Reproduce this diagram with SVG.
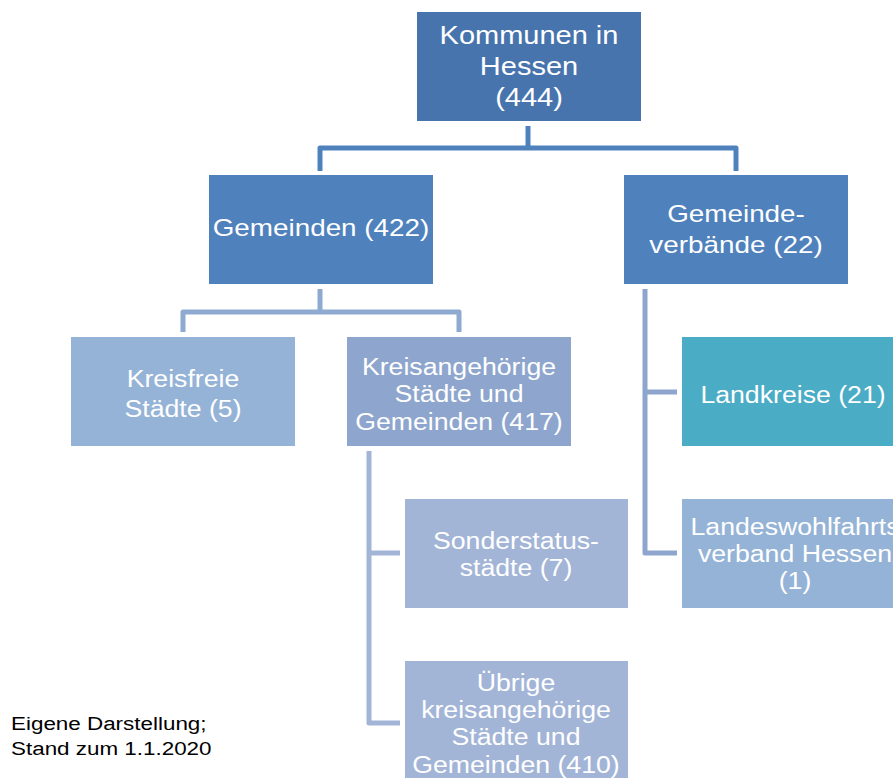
<svg xmlns="http://www.w3.org/2000/svg" width="893" height="778" viewBox="0 0 893 778">
<style>
  text { font-family: "Liberation Sans", Arial, sans-serif; fill: #ffffff; text-anchor: middle; }
  .l1 { font-size: 25px; }
  .l2 { font-size: 24px; }
  .l3 { font-size: 23px; }
  .foot { font-size: 19px; fill: #000000; text-anchor: start; }
  .conn { fill: none; stroke-width: 5; stroke-linejoin: round; stroke-linecap: butt; }
</style>
<rect width="893" height="778" fill="#ffffff"/>

<g id="connectors">
  <path class="conn" stroke="#4f81bd" d="M528,126 V148 M320,171 V148 H736 V171"/>
  <path class="conn" stroke="#8eaad0" d="M320,289 V312 M183,332 V312 H459 V332"/>
  <path class="conn" stroke="#8ea6cd" d="M645,289 V553 H677 M645,392 H677"/>
  <path class="conn" stroke="#a3b5d7" d="M369,451 V723 H400 M369,553 H400"/>
</g>

<g id="node-kommunen">
  <rect x="417" y="12" width="224" height="109" fill="#4774ad"/>
  <g transform="translate(529,0) scale(1.16,1)">
    <text class="l1" x="0" y="44">Kommunen in</text>
    <text class="l1" x="0" y="75">Hessen</text>
    <text class="l1" x="0" y="106">(444)</text>
  </g>
</g>

<g id="node-gemeinden">
  <rect x="209" y="175" width="224" height="109" fill="#4f81bd"/>
  <g transform="translate(321,0) scale(1.16,1)">
    <text class="l2" x="0" y="236">Gemeinden (422)</text>
  </g>
</g>

<g id="node-gemeindeverbaende">
  <rect x="624" y="175" width="224" height="109" fill="#4f81bd"/>
  <g transform="translate(736,0) scale(1.16,1)">
    <text class="l2" x="0" y="222">Gemeinde-</text>
    <text class="l2" x="0" y="253">verbände (22)</text>
  </g>
</g>

<g id="node-kreisfreie">
  <rect x="71" y="337" width="224" height="109" fill="#95b3d7"/>
  <g transform="translate(183,0) scale(1.16,1)">
    <text class="l3" x="0" y="387">Kreisfreie</text>
    <text class="l3" x="0" y="417">Städte (5)</text>
  </g>
</g>

<g id="node-kreisangehoerige">
  <rect x="347" y="337" width="224" height="109" fill="#8ea6cd"/>
  <g transform="translate(459,0) scale(1.16,1)">
    <text class="l3" x="0" y="375">Kreisangehörige</text>
    <text class="l3" x="0" y="402">Städte und</text>
    <text class="l3" x="0" y="430">Gemeinden (417)</text>
  </g>
</g>

<g id="node-landkreise">
  <rect x="682" y="337" width="224" height="109" fill="#4bacc6"/>
  <g transform="translate(793,0) scale(1.16,1)">
    <text class="l3" x="0" y="403">Landkreise (21)</text>
  </g>
</g>

<g id="node-sonderstatus">
  <rect x="405" y="499" width="223" height="109" fill="#a3b5d7"/>
  <g transform="translate(516,0) scale(1.16,1)">
    <text class="l3" x="0" y="549">Sonderstatus-</text>
    <text class="l3" x="0" y="576">städte (7)</text>
  </g>
</g>

<g id="node-lwv">
  <rect x="682" y="499" width="224" height="109" fill="#95b3d7"/>
  <g transform="translate(795,0) scale(1.16,1)">
    <text class="l3" x="0" y="535">Landeswohlfahrts</text>
    <text class="l3" x="0" y="562">verband Hessen</text>
    <text class="l3" x="0" y="589">(1)</text>
  </g>
</g>

<g id="node-uebrige">
  <rect x="405" y="661" width="223" height="130" fill="#a3b5d7"/>
  <g transform="translate(516,0) scale(1.16,1)">
    <text class="l3" x="0" y="691">Übrige</text>
    <text class="l3" x="0" y="718">kreisangehörige</text>
    <text class="l3" x="0" y="745">Städte und</text>
    <text class="l3" x="0" y="773">Gemeinden (410)</text>
  </g>
</g>

<g id="footnote" transform="translate(11,0) scale(1.18,1)">
  <text class="foot" x="0" y="730">Eigene Darstellung;</text>
  <text class="foot" x="0" y="755">Stand zum 1.1.2020</text>
</g>
</svg>
